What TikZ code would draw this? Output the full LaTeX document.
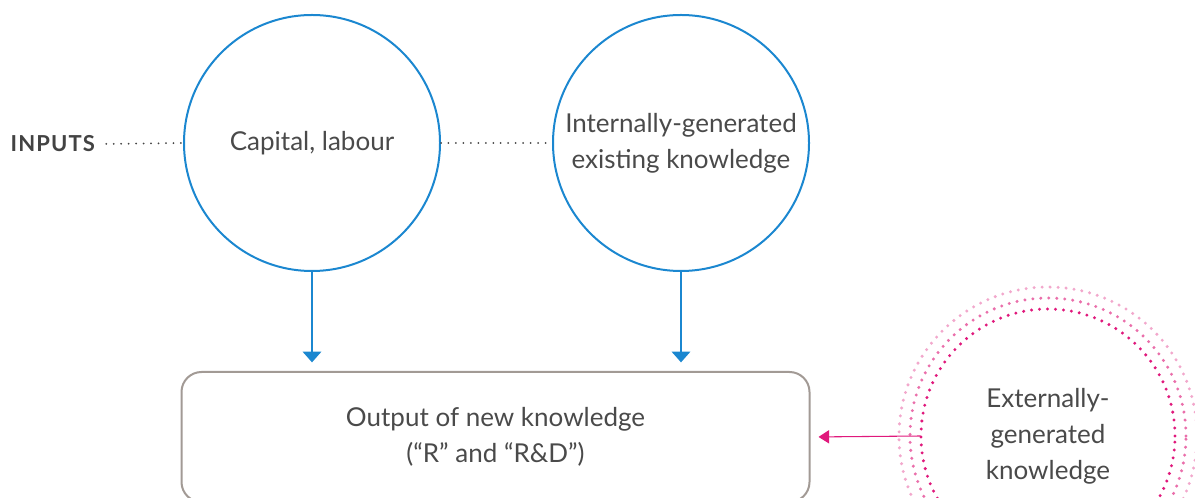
\documentclass[tikz,border=0pt]{standalone}
\usepackage{fontspec}
\setmainfont{Lato}
\usepackage{xcolor}
\usetikzlibrary{arrows.meta}

\definecolor{bubbleblue}{HTML}{1B87D0}
\definecolor{boxgrey}{HTML}{A29A95}
\definecolor{txtgrey}{HTML}{4A4A4A}
\definecolor{dotgrey}{HTML}{444444}
\definecolor{ringdark}{HTML}{E0197C}
\definecolor{ringmid}{HTML}{EA6FAB}
\definecolor{ringpale}{HTML}{F2A8CC}

\begin{document}
\begin{tikzpicture}[x=0.75pt, y=-0.75pt, font=\fontsize{19.5}{27}\selectfont, text=txtgrey,
  bubble/.style={draw=bubbleblue, line width=1.5pt, circle, minimum size=192pt, align=center, inner sep=0pt},
  outbox/.style={draw=boxgrey, line width=1.5pt, rounded corners=15pt, minimum width=471pt, minimum height=97.5pt, align=center},
  ring/.style={line width=2.5pt, line cap=round, dash pattern=on 0pt off 6pt},
  dots/.style={dotgrey, line width=1.5pt, line cap=round, dash pattern=on 0pt off 5.6pt},
  feed/.style={bubbleblue, line width=0.8pt, -{Triangle[width=14pt,length=8pt]}, shorten >=6.5pt},
  extfeed/.style={ringdark, line width=0.8pt, -{Triangle[width=10pt,length=8pt]}, shorten >=6pt}]
\useasboundingbox (0,0) rectangle (1195,498);

% inputs
\node[anchor=west, font=\fontsize{16.5}{18}\selectfont\bfseries\addfontfeatures{LetterSpace=5}, text=txtgrey!90!black] (inputs) at (6,144) {INPUTS};
\node[bubble] (cap) at (312,143) {Capital, labour};
\node[bubble] (intk) at (681,143) {Internally-generated\\existing knowledge};

% output
\node[outbox] (out) at (495.5,437) {Output of new knowledge\\(“R” and “R\&D”)};

% external knowledge with its dotted rings
\node[circle, minimum size=190.5pt, align=center, inner sep=0pt] (extk) at (1048,436) {Externally-\\generated\\knowledge};
\draw[ring, ringpale] (extk.center) circle[radius=111.75pt];
\draw[ring, ringmid] (extk.center) circle[radius=103.5pt];
\draw[ring, ringdark] (extk.center) circle[radius=95.25pt];

\draw[dots] (inputs.east) ++(5pt,0) -- (cap.west);
\draw[dots] (cap.east) -- (intk.west);
\draw[feed] (cap.south) -- (cap.south |- out.north);
\draw[feed] (intk.south) -- (intk.south |- out.north);
\draw[extfeed] (extk.west) -- (out.east);
\end{tikzpicture}
\end{document}
